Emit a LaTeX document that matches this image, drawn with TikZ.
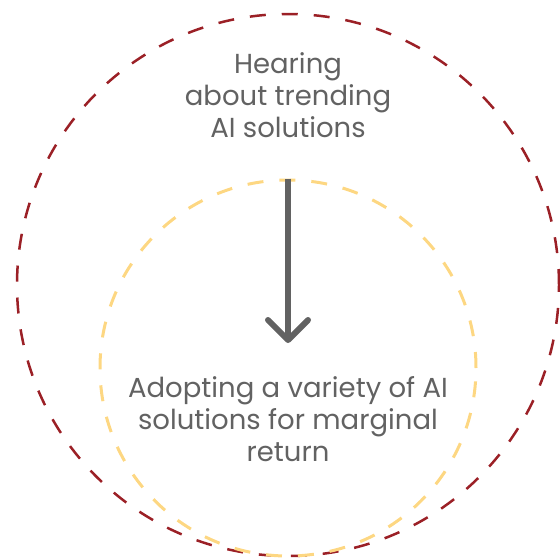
\documentclass[tikz,border=0pt]{standalone}
\usepackage{fontspec}
\setmainfont{Poppins}
\usetikzlibrary{arrows.meta}
\definecolor{ringred}{RGB}{155,32,38}
\definecolor{ringyellow}{RGB}{253,215,130}
\definecolor{textgray}{RGB}{98,98,98}
\tikzset{
  ring/.style={circle,draw=#1,inner sep=0pt,dash pattern=on 16pt off 16pt},
  caption/.style={align=center,text=textgray,font=\fontsize{27.5}{32}\selectfont}
}
\begin{document}
\begin{tikzpicture}[x=1pt,y=-1pt]
                \useasboundingbox (0,0) rectangle (560,560);
                \node [ring=ringred,line width=2.5pt,minimum size=542pt] (outer) at (288,285) {};
                \node [ring=ringyellow,line width=3pt,minimum size=376pt] (inner) at (288,368) {};
                \node [caption] (hearing) at (288,95) {Hearing\\about trending\\AI solutions};
                \node [caption] (adopting) at (288,419) {Adopting a variety of AI\\solutions for marginal\\return};
                \coordinate (tip) at (288,343);
                \draw [textgray,line width=6pt,-{Straight Barb[length=20pt,width=40pt,round]}] (inner.north) -- (tip);
            \end{tikzpicture}
\end{document}
